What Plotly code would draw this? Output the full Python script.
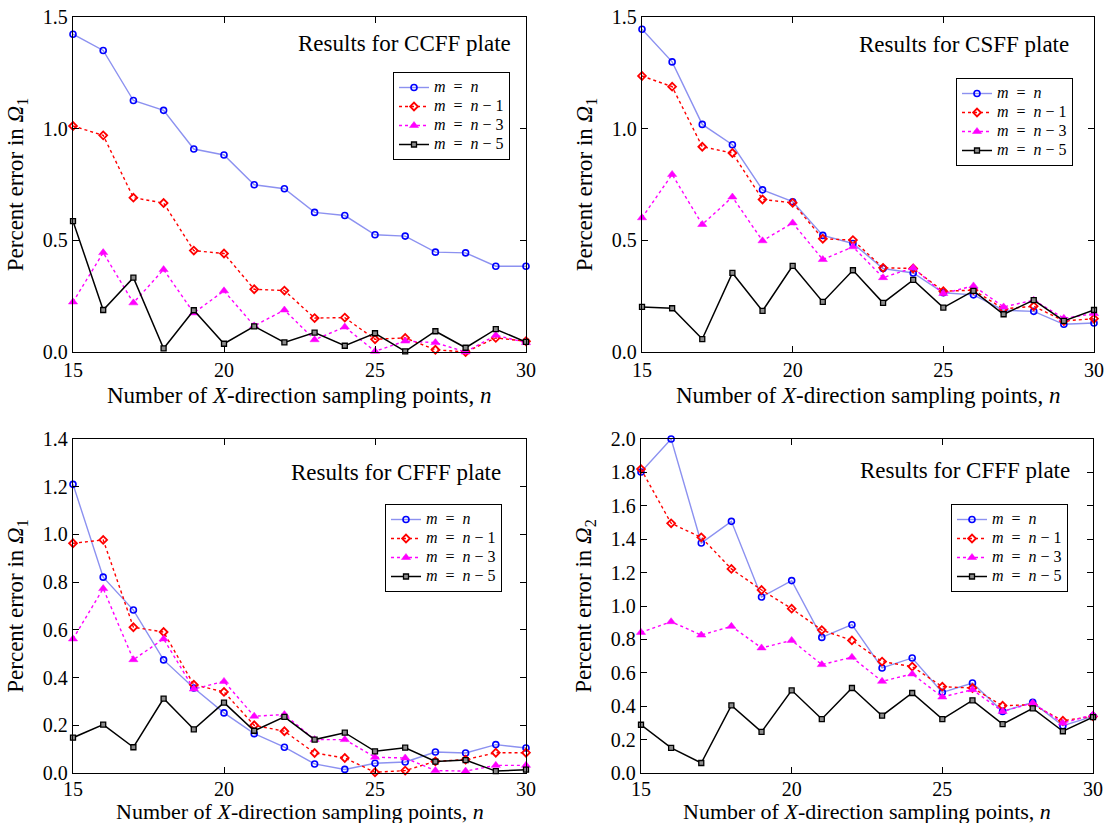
import plotly.graph_objects as go

n_points = list(range(15, 31))

# Panel 1: CCFF plate, Omega_1
ccff_m_n = [1.423, 1.350, 1.126, 1.082, 0.909, 0.882, 0.749, 0.731, 0.625, 0.611, 0.525, 0.519, 0.447, 0.444, 0.384, 0.384]
ccff_m_n1 = [1.012, 0.970, 0.691, 0.667, 0.454, 0.441, 0.281, 0.275, 0.152, 0.154, 0.057, 0.063, 0.010, 0.000, 0.063, 0.048]
ccff_m_n3 = [0.224, 0.445, 0.220, 0.369, 0.175, 0.274, 0.117, 0.188, 0.055, 0.112, 0.003, 0.049, 0.042, 0.000, 0.075, 0.042]
ccff_m_n5 = [0.586, 0.188, 0.333, 0.016, 0.187, 0.037, 0.115, 0.043, 0.087, 0.028, 0.084, 0.003, 0.093, 0.019, 0.102, 0.045]

# Panel 2: CSFF plate, Omega_1
csff_m_n = [1.445, 1.299, 1.019, 0.928, 0.726, 0.673, 0.522, 0.486, 0.374, 0.354, 0.265, 0.256, 0.187, 0.182, 0.124, 0.130]
csff_m_n1 = [1.236, 1.188, 0.919, 0.891, 0.683, 0.668, 0.507, 0.501, 0.377, 0.374, 0.272, 0.277, 0.193, 0.205, 0.139, 0.149]
csff_m_n3 = [0.601, 0.795, 0.571, 0.694, 0.498, 0.578, 0.414, 0.471, 0.333, 0.377, 0.262, 0.296, 0.202, 0.232, 0.151, 0.172]
csff_m_n5 = [0.202, 0.196, 0.058, 0.354, 0.184, 0.386, 0.224, 0.366, 0.220, 0.323, 0.199, 0.274, 0.169, 0.232, 0.139, 0.188]

# Panel 3: CFFF plate, Omega_1
cfff1_m_n = [1.210, 0.821, 0.683, 0.474, 0.356, 0.252, 0.165, 0.108, 0.038, 0.015, 0.041, 0.046, 0.088, 0.084, 0.119, 0.105]
cfff1_m_n1 = [0.963, 0.977, 0.611, 0.591, 0.370, 0.340, 0.200, 0.175, 0.084, 0.063, 0.003, 0.010, 0.049, 0.056, 0.085, 0.085]
cfff1_m_n3 = [0.562, 0.773, 0.475, 0.562, 0.352, 0.384, 0.238, 0.245, 0.140, 0.140, 0.066, 0.063, 0.010, 0.008, 0.032, 0.032]
cfff1_m_n5 = [0.148, 0.203, 0.108, 0.312, 0.183, 0.295, 0.177, 0.235, 0.140, 0.169, 0.091, 0.106, 0.048, 0.054, 0.008, 0.014]

# Panel 4: CFFF plate, Omega_2
cfff2_m_n = [1.802, 2.000, 1.377, 1.507, 1.054, 1.152, 0.812, 0.888, 0.629, 0.689, 0.483, 0.539, 0.369, 0.423, 0.283, 0.339]
cfff2_m_n1 = [1.820, 1.495, 1.411, 1.222, 1.096, 0.984, 0.856, 0.794, 0.667, 0.637, 0.517, 0.509, 0.403, 0.409, 0.313, 0.339]
cfff2_m_n3 = [0.842, 0.906, 0.826, 0.878, 0.749, 0.794, 0.649, 0.693, 0.549, 0.593, 0.455, 0.499, 0.369, 0.419, 0.299, 0.349]
cfff2_m_n5 = [0.289, 0.150, 0.060, 0.405, 0.246, 0.495, 0.323, 0.509, 0.343, 0.479, 0.323, 0.435, 0.293, 0.387, 0.250, 0.335]

LEG_SPAN = "<span style='font-size:16px'>{}</span>"
series_names = ["<i>m</i>  =  <i>n</i>", "<i>m</i>  =  <i>n</i> − 1",
                "<i>m</i>  =  <i>n</i> − 3", "<i>m</i>  =  <i>n</i> − 5"]
panel_titles = ["Results for CCFF plate", "Results for CSFF plate",
                "Results for CFFF plate", "Results for CFFF plate"]
y_titles = ["Percent error in <i>Ω</i><sub>1</sub>", "Percent error in <i>Ω</i><sub>1</sub>",
            "Percent error in <i>Ω</i><sub>1</sub>", "Percent error in <i>Ω</i><sub>2</sub>"]
x_title = "Number of <i>X</i>-direction sampling points, <i>n</i>"
y_ranges = [[0, 1.5], [0, 1.5], [0, 1.4], [0, 2.0]]
y_dticks = [0.5, 0.5, 0.2, 0.2]

panels = [
    [ccff_m_n, ccff_m_n1, ccff_m_n3, ccff_m_n5],
    [csff_m_n, csff_m_n1, csff_m_n3, csff_m_n5],
    [cfff1_m_n, cfff1_m_n1, cfff1_m_n3, cfff1_m_n5],
    [cfff2_m_n, cfff2_m_n1, cfff2_m_n3, cfff2_m_n5],
]

W, H = 1109, 823
FONT = "Liberation Serif"

styles = [
    dict(line=dict(color="rgb(140,145,240)", width=1.4, dash="solid"),
         marker=dict(symbol="circle-open", size=6, color="rgb(0,0,255)", line=dict(width=1.6, color="rgb(0,0,255)"))),
    dict(line=dict(color="rgb(255,0,0)", width=1.4, dash="dot"),
         marker=dict(symbol="diamond-open", size=6, color="rgb(255,0,0)", line=dict(width=1.8, color="rgb(255,0,0)"))),
    dict(line=dict(color="rgb(255,0,255)", width=1.4, dash="dot"),
         marker=dict(symbol="triangle-up", size=8, color="rgb(255,0,255)", line=dict(width=0.5, color="rgb(255,0,255)"))),
    dict(line=dict(color="rgb(0,0,0)", width=1.5, dash="solid"),
         marker=dict(symbol="square", size=5, color="rgb(140,140,140)", line=dict(width=1.3, color="rgb(0,0,0)"))),
]

# pixel boxes of plot areas: (left, right, top, bottom)
boxes = [(73, 526, 17, 352), (642, 1094, 17, 352), (73, 526, 439, 773), (641, 1093, 439, 773)]
legend_pos = [(510, 72), (1073, 78), (502, 504), (1068, 504)]
ann_pos = [(513, 43), (1071, 45), (503, 472), (1072, 470)]
xtitle_y = [395, 395, 811, 811]
xtick_shift = [0, 0, -2, -2]
xtitle_size = [23, 23, 22, 22]

fig = go.Figure()
layout = dict(width=W, height=H, margin=dict(l=0, r=0, t=0, b=0),
              paper_bgcolor="white", plot_bgcolor="white",
              font=dict(family=FONT, size=20, color="black"),
              annotations=[])

for p in range(4):
    ax = "" if p == 0 else str(p + 1)
    leg = "legend" if p == 0 else "legend" + str(p + 1)
    for s in range(4):
        fig.add_trace(go.Scatter(
            x=n_points, y=panels[p][s], mode="lines+markers",
            name=LEG_SPAN.format(series_names[s]),
            xaxis="x" + ax, yaxis="y" + ax, legend=leg, cliponaxis=False,
            line=styles[s]["line"], marker=styles[s]["marker"]))
    l, r, t, b = boxes[p]
    common = dict(showline=True, linecolor="black", linewidth=1.3, mirror="ticks",
                  ticks="inside", ticklen=6, tickwidth=1.2, tickcolor="black",
                  showgrid=False, zeroline=False, automargin=False,
                  tickfont=dict(family=FONT, size=20, color="black"))
    layout["xaxis" + ax] = dict(common, domain=[l / W, r / W], anchor="y" + ax,
                                range=[15, 30], tickvals=[15, 20, 25, 30],
                                ticklabelstandoff=xtick_shift[p])
    layout["yaxis" + ax] = dict(common, domain=[1 - b / H, 1 - t / H], anchor="x" + ax,
                                range=y_ranges[p], dtick=y_dticks[p], tick0=0,
                                tickformat=".1f",
                                title=dict(text=y_titles[p], standoff=12,
                                           font=dict(family=FONT, size=23)))
    lx, ly = legend_pos[p]
    layout[leg] = dict(x=lx / W, y=1 - ly / H, xanchor="right", yanchor="top",
                       xref="paper", yref="paper",
                       bordercolor="black", borderwidth=1, bgcolor="white",
                       font=dict(family=FONT, size=12, color="black"),
                       itemwidth=30, tracegroupgap=0)
    axx, ayy = ann_pos[p]
    layout["annotations"].append(dict(
        text=panel_titles[p], x=axx / W, y=1 - ayy / H, xref="paper", yref="paper",
        xanchor="right", yanchor="middle", showarrow=False,
        font=dict(family=FONT, size=23, color="black")))
    # x-axis title, placed as a paper annotation centred under the panel
    layout["annotations"].append(dict(
        text=x_title, x=(l + r) / 2 / W, y=1 - xtitle_y[p] / H, xref="paper", yref="paper",
        xanchor="center", yanchor="middle", showarrow=False,
        font=dict(family=FONT, size=xtitle_size[p], color="black")))

layout["showlegend"] = True
fig.update_layout(**layout)
fig.write_html("out.html")
